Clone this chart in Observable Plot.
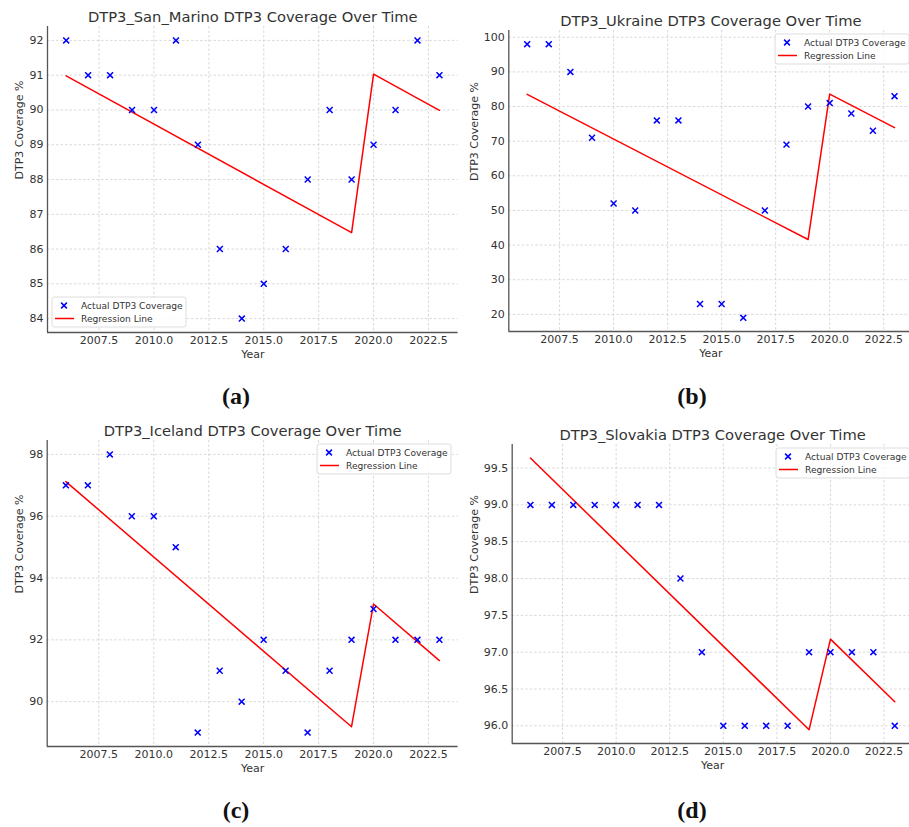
<!DOCTYPE html>
<html>
<head>
<meta charset="utf-8">
<script src="https://cdn.jsdelivr.net/npm/d3@7"></script>
<script src="https://cdn.jsdelivr.net/npm/@observablehq/plot@0.6"></script>
<style>
  html, body { margin: 0; padding: 0; background: #fff; }
  #page { position: relative; width: 909px; height: 827px; overflow: hidden; background: #fff; }
  .panel { position: absolute; }
  .panel svg { max-width: none !important; display: block; }
  .caption {
    position: absolute; width: 120px; text-align: center;
    font-family: "Liberation Serif", "DejaVu Serif", serif; font-weight: bold;
    font-size: 24px; line-height: 30px; color: #111;
  }
</style>
</head>
<body>
<div id="page"></div>
<script>
// Yearly DTP3 coverage (%) per country
const years = [2006, 2007, 2008, 2009, 2010, 2011, 2012, 2013, 2014, 2015, 2016, 2017, 2018, 2019, 2020, 2021, 2022, 2023];
const sanMarino = [92, 91, 91, 90, 90, 92, 89, 86, 84, 85, 86, 88, 90, 88, 89, 90, 92, 91];
const ukraine   = [98, 98, 90, 71, 52, 50, 76, 76, 23, 23, 19, 50, 69, 80, 81, 78, 73, 83];
const iceland   = [97, 97, 98, 96, 96, 95, 89, 91, 90, 92, 91, 89, 91, 92, 93, 92, 92, 92];
const slovakia  = [99, 99, 99, 99, 99, 99, 99, 98, 97, 96, 96, 96, 96, 97, 97, 97, 97, 96];

// Segmented regression fit: pre-2020 segment and 2020+ segment
const regYears     = [2006, 2019, 2020, 2023];
const regSanMarino = [90.98, 86.47, 91.03, 89.99];
const regUkraine   = [83.5, 41.6, 83.6, 73.9];
const regIceland   = [97.12, 89.19, 93.16, 91.33];
const regSlovakia  = [99.636, 95.946, 97.177, 96.326];

// Tick values
const xTicks = [2007.5, 2010.0, 2012.5, 2015.0, 2017.5, 2020.0, 2022.5];
const yTicksSanMarino = [84, 85, 86, 87, 88, 89, 90, 91, 92];
const yTicksUkraine   = [20, 30, 40, 50, 60, 70, 80, 90, 100];
const yTicksIceland   = [90, 92, 94, 96, 98];
const yTicksSlovakia  = [96.0, 96.5, 97.0, 97.5, 98.0, 98.5, 99.0, 99.5];

const titles = [
  "DTP3_San_Marino DTP3 Coverage Over Time",
  "DTP3_Ukraine DTP3 Coverage Over Time",
  "DTP3_Iceland DTP3 Coverage Over Time",
  "DTP3_Slovakia DTP3 Coverage Over Time"
];
const captions = ["(a)", "(b)", "(c)", "(d)"];

// Layout of the four panels
const panels = [
  {title: titles[0], values: sanMarino, reg: regSanMarino, yTicks: yTicksSanMarino, yFormat: d3.format("d"),
   left: 0, top: 0, ml: 47, mr: 12.4, mt: 26, mb: 48, yDomain: [83.6, 92.4], ylabelDx: -28, legend: [52, 297],
   caption: captions[0], capX: 236, capY: 396},
  {title: titles[1], values: ukraine, reg: regUkraine, yTicks: yTicksUkraine, yFormat: d3.format("d"),
   left: 455, top: 0, ml: 53.3, mr: 12.6, mt: 30, mb: 49, yDomain: [15.05, 101.95], ylabelDx: -34.3, legend: [320, 34],
   caption: captions[1], capX: 692, capY: 396},
  {title: titles[2], values: iceland, reg: regIceland, yTicks: yTicksIceland, yFormat: d3.format("d"),
   left: 0, top: 415, ml: 46.7, mr: 12.4, mt: 25, mb: 49, yDomain: [88.55, 98.45], ylabelDx: -27.7, legend: [317, 29],
   caption: captions[2], capX: 236, capY: 810},
  {title: titles[3], values: slovakia, reg: regSlovakia, yTicks: yTicksSlovakia, yFormat: d3.format(".1f"),
   left: 455, top: 415, ml: 56.7, mr: 12.5, mt: 29, mb: 52, yDomain: [95.76, 99.82], ylabelDx: -37.7, legend: [321, 33],
   caption: captions[3], capX: 692, capY: 810}
];

const W = 470, H = 380;
const xDomain = [2005.15, 2023.85];
const gridStyle = {stroke: "#cfcfcf", strokeOpacity: 1, strokeWidth: 0.8, strokeDasharray: "2.5,2"};

function legendMark(bx, by) {
  return () => {
    const g = d3.create("svg:g")
      .attr("font-family", "DejaVu Sans")
      .attr("font-size", 9.1)
      .attr("text-anchor", "start")
      .attr("fill", "#333");
    g.append("rect")
      .attr("x", bx).attr("y", by).attr("width", 134).attr("height", 30).attr("rx", 2.5)
      .attr("fill", "white").attr("fill-opacity", 0.8)
      .attr("stroke", "#d4d4d4").attr("stroke-width", 0.8);
    const r1 = by + 8.5, r2 = by + 21.5, cx = bx + 12, s = 2.9;
    g.append("path")
      .attr("d", `M${cx - s},${r1 - s}L${cx + s},${r1 + s}M${cx - s},${r1 + s}L${cx + s},${r1 - s}`)
      .attr("stroke", "blue").attr("stroke-width", 1.5).attr("fill", "none");
    g.append("line")
      .attr("x1", bx + 3).attr("x2", bx + 22).attr("y1", r2).attr("y2", r2)
      .attr("stroke", "red").attr("stroke-width", 1.5);
    g.append("text").attr("x", bx + 29).attr("y", r1).attr("dy", "0.35em").text("Actual DTP3 Coverage");
    g.append("text").attr("x", bx + 29).attr("y", r2).attr("dy", "0.35em").text("Regression Line");
    return g.node();
  };
}

const page = document.getElementById("page");

for (const p of panels) {
  const points = years.map((year, i) => ({year, value: p.values[i]}));
  const fit = regYears.map((year, i) => ({year, value: p.reg[i]}));

  const chart = Plot.plot({
    width: W,
    height: H,
    marginLeft: p.ml,
    marginRight: p.mr,
    marginTop: p.mt,
    marginBottom: p.mb,
    style: {
      fontFamily: "DejaVu Sans",
      fontSize: "11px",
      color: "#333",
      background: "transparent",
      overflow: "visible"
    },
    x: {domain: xDomain},
    y: {domain: p.yDomain},
    marks: [
      Plot.gridX(xTicks, gridStyle),
      Plot.gridY(p.yTicks, gridStyle),
      Plot.ruleX([xDomain[0]], {stroke: "#555", strokeWidth: 1.3}),
      Plot.ruleY([p.yDomain[0]], {stroke: "#555", strokeWidth: 1.3}),
      Plot.axisX(xTicks, {tickSize: 0, tickPadding: 3.5, tickFormat: d3.format(".1f"), label: null, fontSize: 11}),
      Plot.axisY(p.yTicks, {tickSize: 0, tickPadding: 4, tickFormat: p.yFormat, label: null, fontSize: 11}),
      Plot.text(["Year"], {frameAnchor: "bottom", dy: 21.5, lineAnchor: "middle", fontSize: 11}),
      Plot.text(["DTP3 Coverage %"], {frameAnchor: "left", dx: p.ylabelDx, rotate: -90, lineAnchor: "middle", fontSize: 11}),
      Plot.text([p.title], {frameAnchor: "top", dy: -5, lineAnchor: "bottom", fontSize: 14.7}),
      Plot.line(fit, {x: "year", y: "value", stroke: "red", strokeWidth: 1.5}),
      Plot.dot(points, {x: "year", y: "value", symbol: "times", r: 2.8, stroke: "blue", strokeWidth: 1.5}),
      legendMark(p.legend[0], p.legend[1])
    ]
  });

  const holder = document.createElement("div");
  holder.className = "panel";
  holder.style.left = p.left + "px";
  holder.style.top = p.top + "px";
  holder.style.width = W + "px";
  holder.style.height = H + "px";
  holder.appendChild(chart);
  page.appendChild(holder);

  const cap = document.createElement("div");
  cap.className = "caption";
  cap.style.left = (p.capX - 60) + "px";
  cap.style.top = (p.capY - 15) + "px";
  cap.textContent = p.caption;
  page.appendChild(cap);
}
</script>
</body>
</html>
